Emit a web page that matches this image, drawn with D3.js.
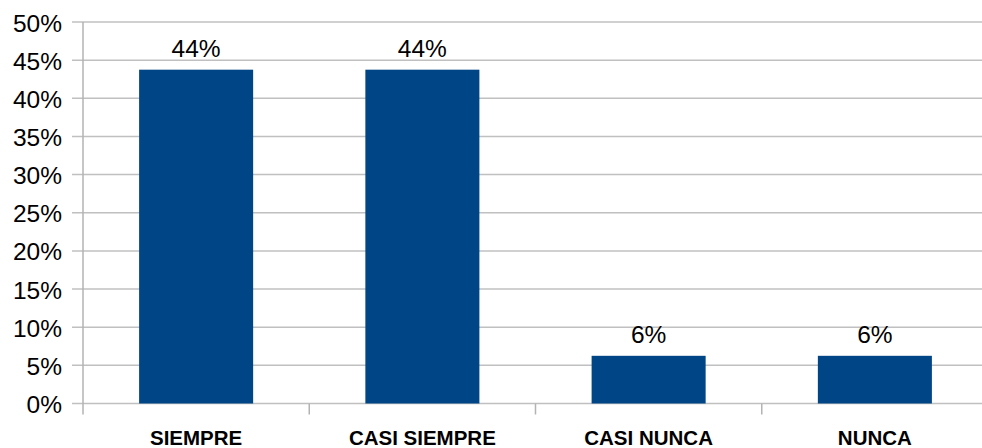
<!DOCTYPE html>
<html>
<head>
<meta charset="utf-8">
<script src="https://cdn.jsdelivr.net/npm/d3@7"></script>
<style>
  body { margin: 0; background: #fff; }
  svg { display: block; font-family: "Liberation Sans", Arial, sans-serif; }
  .grid-line { stroke: #c0c0c0; stroke-width: 1.5; }
  .axis-line { stroke: #b3b3b3; stroke-width: 1.5; }
</style>
</head>
<body>
<svg id="chart"></svg>
<script>
// Data
var categories = ["SIEMPRE", "CASI SIEMPRE", "CASI NUNCA", "NUNCA"];
var values = [43.75, 43.75, 6.25, 6.25];
var valueLabels = ["44%", "44%", "6%", "6%"];
var yTicks = [0, 5, 10, 15, 20, 25, 30, 35, 40, 45, 50];

// SVG size params
var width = 982;
var height = 448;
var plot = {left: 83, right: 988, top: 22, bottom: 403.5};

var svg = d3.select("#chart")
    .attr("width", width)
    .attr("height", height);

// Scales
var y = d3.scaleLinear()
          .domain([0, 50])
          .range([plot.bottom, plot.top]);

var x = d3.scaleBand()
          .domain(categories)
          .range([plot.left, plot.right])
          .paddingInner(0.496)
          .paddingOuter(0.248);

var xCell = d3.scaleBand()
          .domain(categories)
          .range([plot.left, plot.right]);

// Horizontal grid lines + y ticks
svg.selectAll(".grid-line")
  .data(yTicks)
  .enter().append("line")
      .attr("class", "grid-line")
      .attr("x1", plot.left - 11)
      .attr("x2", plot.right)
      .attr("y1", d => y(d))
      .attr("y2", d => y(d));

// Y labels
svg.selectAll(".y-label")
  .data(yTicks)
  .enter().append("text")
      .attr("class", "y-label")
      .attr("x", 62)
      .attr("y", d => y(d) + 9.5)
      .attr("text-anchor", "end")
      .attr("font-size", 24.5)
      .attr("fill", "#000")
      .text(d => d + "%");

// Y axis line
svg.append("line")
    .attr("class", "axis-line")
    .attr("x1", plot.left)
    .attr("x2", plot.left)
    .attr("y1", plot.top)
    .attr("y2", plot.bottom + 11);

// Category boundary ticks
svg.selectAll(".x-tick")
  .data(categories)
  .enter().append("line")
      .attr("class", "axis-line")
      .attr("x1", d => xCell(d) + xCell.bandwidth())
      .attr("x2", d => xCell(d) + xCell.bandwidth())
      .attr("y1", plot.bottom)
      .attr("y2", plot.bottom + 11);

// Bars
svg.selectAll(".bar")
  .data(values)
  .enter().append("rect")
      .attr("class", "bar")
      .attr("x", (d, i) => x(categories[i]))
      .attr("width", x.bandwidth())
      .attr("y", d => y(d))
      .attr("height", d => y(0) - y(d))
      .attr("fill", "#004586");

// Value labels
svg.selectAll(".value-label")
  .data(values)
  .enter().append("text")
      .attr("class", "value-label")
      .attr("x", (d, i) => x(categories[i]) + x.bandwidth() / 2)
      .attr("y", d => y(d) - 13)
      .attr("text-anchor", "middle")
      .attr("font-size", 24.5)
      .attr("fill", "#000")
      .text((d, i) => valueLabels[i]);

// Category labels
svg.selectAll(".x-label")
  .data(categories)
  .enter().append("text")
      .attr("class", "x-label")
      .attr("x", d => x(d) + x.bandwidth() / 2)
      .attr("y", 445)
      .attr("text-anchor", "middle")
      .attr("font-size", 20.5)
      .attr("font-weight", "bold")
      .attr("fill", "#000")
      .text(d => d);
</script>
</body>
</html>
